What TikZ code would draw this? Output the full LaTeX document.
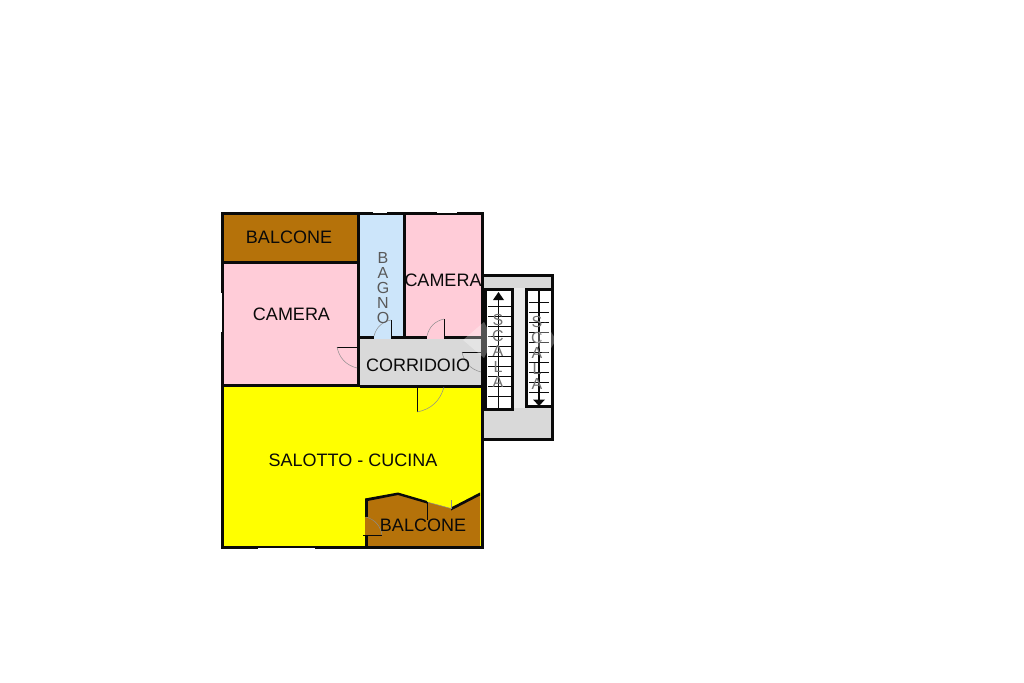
\documentclass[tikz,border=0pt]{standalone}
\usepackage{fontspec}
\setmainfont{Liberation Sans}
\definecolor{brownc}{RGB}{181,114,10}
\definecolor{pinkc}{RGB}{255,204,216}
\definecolor{bluec}{RGB}{204,229,250}
\definecolor{greyc}{RGB}{217,217,217}
\definecolor{yellowc}{RGB}{255,255,0}
\definecolor{inkc}{RGB}{10,10,10}
\tikzset{
  wall/.style={fill=inkc,draw=none},
  thinline/.style={draw=inkc,line width=0.6pt},
  arcline/.style={draw=black!45,line width=0.5pt},
  roomlabel/.style={font=\fontsize{18}{18}\selectfont,text=inkc,inner sep=0pt},
  sidelabel/.style={font=\fontsize{16}{16}\selectfont,text=black!65,inner sep=0pt},
  stairlabel/.style={font=\fontsize{16}{16}\selectfont,text=black!55,inner sep=0pt},
  tread/.style={draw=inkc,line width=0.8pt},
  haze/.style={fill=white,fill opacity=0.3,draw=none},
}
\begin{document}
\begin{tikzpicture}[x=1pt,y=-1pt]
\useasboundingbox[fill=white] (0,0) rectangle (1024,682);
% room fills
\fill[brownc] (224,215) rectangle (357,261);
\fill[pinkc] (224,263) rectangle (358,384);
\fill[bluec] (360,215) rectangle (403,336);
\fill[pinkc] (406,215) rectangle (481,336);
\fill[greyc] (360,338) rectangle (481,384.5);
\fill[yellowc] (224,387) rectangle (481,546);
\fill[brownc] (368,500) -- (398,494) -- (427,502) -- (451,508.5) -- (480,495) -- (480,546) -- (368,546) -- cycle;
% outer walls
\fill[wall] (221,212) rectangle (484,215);
\fill[wall] (221,212) rectangle (224,549);
\fill[wall] (221,546) rectangle (484,549);
\fill[wall] (481,212) rectangle (484,549);
% inner walls
\fill[wall] (224,261) rectangle (358,264);
\fill[wall] (357,215) rectangle (360,384);
\fill[wall] (403,215) rectangle (406,336);
\fill[wall] (360,335.5) rectangle (374,339);
\fill[wall] (391,335.5) rectangle (427,339);
\fill[wall] (444,335.5) rectangle (484,339);
\fill[wall] (224,383.5) rectangle (360,387);
\fill[wall] (360,384.5) rectangle (484,387.5);
% door gaps
\fill[bluec] (374,336) rectangle (391,339);
\fill[pinkc] (427,336) rectangle (444,339);
% windows
\fill[white] (373,212) rectangle (387,213.2);
\fill[white] (437,212) rectangle (457,213.2);
\fill[white] (221,293) rectangle (222.2,332);
\fill[white] (258,547.8) rectangle (315,549);
% lower balcony walls
\fill[wall] (365,499) rectangle (368,517);
\fill[wall] (365,535) rectangle (368,547);
\fill[wall] (365,498.5) -- (398,492.5) -- (427,501) -- (427,503.5) -- (398,495) -- (365,501.5) -- cycle;
\fill[wall] (451,507.5) -- (480,492.5) -- (480,495.5) -- (451,510.5) -- cycle;
\draw[arcline] (427,502) -- (451,508.5);
\fill[brownc] (365,517) rectangle (368,535);
% doors
\coordinate (d1a) at (337,347); \coordinate (d1b) at (357,347); \coordinate (d1c) at (357,368);
\draw[thinline] (d1a) -- (d1b);
\draw[arcline] (d1a) to[bend right=32] (d1c);
\coordinate (d2a) at (391,320); \coordinate (d2b) at (391,336); \coordinate (d2c) at (374,336);
\draw[thinline] (d2a) -- (d2b);
\draw[arcline] (d2a) to[bend right=32] (d2c);
\coordinate (d3a) at (444,319); \coordinate (d3b) at (444,336); \coordinate (d3c) at (427,336);
\draw[thinline] (d3a) -- (d3b);
\draw[arcline] (d3a) to[bend right=32] (d3c);
\coordinate (d4a) at (462,352); \coordinate (d4b) at (481,352); \coordinate (d4c) at (481,372);
\draw[thinline] (d4a) -- (d4b);
\draw[arcline] (d4a) to[bend right=32] (d4c);
\coordinate (d5a) at (417,387); \coordinate (d5b) at (417,412); \coordinate (d5c) at (444,387);
\draw[thinline] (d5a) -- (d5b);
\draw[arcline] (d5b) to[bend right=32] (d5c);
\coordinate (d6a) at (363,535); \coordinate (d6b) at (382,535); \coordinate (d6c) at (366,517);
\draw[thinline] (d6a) -- (d6b);
\draw[arcline] (d6b) to[bend right=32] (d6c);
\draw[thinline] (427,502) -- (427,520);
\draw[arcline] (451,500) -- (451,509);
% stair block
\fill[wall] (484,274) rectangle (554,441);
\fill[greyc] (484,277) rectangle (551,438);
\fill[black!8] (514,288) rectangle (525,408);
\fill[wall] (484,288) rectangle (514,411);
\fill[white] (487,291) rectangle (511,408);
\fill[wall] (525,288) rectangle (554,408);
\fill[white] (528,291) rectangle (551,405);
% treads
\foreach \y in {306,316,...,396} \draw[tread] (488,\y) -- (511,\y);
\foreach \y in {302,312,...,392} \draw[tread] (529,\y) -- (549,\y);
\coordinate (s1a) at (498.5,408); \coordinate (s1b) at (498.5,299);
\coordinate (s2a) at (539,291); \coordinate (s2b) at (539,400);
\fill[wall] (493,300) -- (498.5,292) -- (504,300) -- cycle;
\draw[draw=inkc,line width=1.6pt] (s1a) -- (s1b);
\fill[wall] (533,399.5) -- (545,399.5) -- (539,406) -- cycle;
\draw[draw=inkc,line width=1.6pt] (s2a) -- (s2b);
% labels
\node[roomlabel] (n1) at (289,237) {BALCONE};
\node[roomlabel] (n2) at (291.5,314) {CAMERA};
\node[roomlabel] (n3) at (443,280.5) {CAMERA};
\node[roomlabel] (n4) at (418,365) {CORRIDOIO};
\node[roomlabel] (n5) at (353,460.5) {SALOTTO - CUCINA};
\node[roomlabel] (n6) at (423,525) {BALCONE};
\node[sidelabel] (b1) at (383,258) {B};
\node[sidelabel] (b2) at (383,273) {A};
\node[sidelabel] (b3) at (383,288) {G};
\node[sidelabel] (b4) at (383,303) {N};
\node[sidelabel] (b5) at (383,317.5) {O};
\node[stairlabel] (p1) at (498,320) {S};
\node[stairlabel] (p2) at (498,335.5) {C};
\node[stairlabel] (p3) at (498,351) {A};
\node[stairlabel] (p4) at (498,366.5) {L};
\node[stairlabel] (p5) at (498,382) {A};
\node[stairlabel] (q1) at (537,322) {S};
\node[stairlabel] (q2) at (537,337.5) {C};
\node[stairlabel] (q3) at (537,353) {A};
\node[stairlabel] (q4) at (537,368.5) {L};
\node[stairlabel] (q5) at (537,384) {A};
% watermark haze
\fill[haze] (463,340) -- (484,322) -- (493,340) -- (484,358) -- cycle;
\fill[haze] (545,322) -- (556,340) -- (545,358) -- (535,340) -- cycle;
\end{tikzpicture}
\end{document}
